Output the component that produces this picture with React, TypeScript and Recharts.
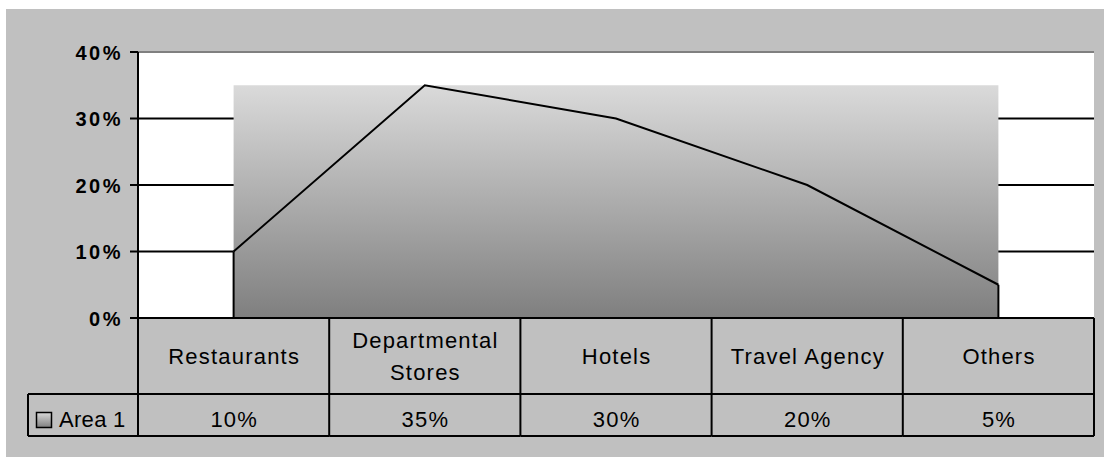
import {
  AreaChart,
  Area,
  XAxis,
  YAxis,
  CartesianGrid,
  ReferenceArea,
  ReferenceLine,
} from "recharts";

const categories = ["Restaurants", "Departmental Stores", "Hotels", "Travel Agency", "Others"];
const categoryLabels = ["Restaurants", "Departmental\nStores", "Hotels", "Travel Agency", "Others"];
const area1 = [0.1, 0.35, 0.3, 0.2, 0.05];
const yTicks = [0, 0.1, 0.2, 0.3, 0.4];
const seriesName = "Area 1";

const data = categories.map((name, i) => ({ name, area1: area1[i] }));

const W = 1104;
const H = 457;
const PLOT_LEFT = 138;
const PLOT_RIGHT = 1094;
const PLOT_TOP = 52;
const PLOT_BOTTOM = 318;
const ROW_SPLIT = 394;
const TABLE_BOTTOM = 436;
const LEGEND_LEFT = 28;
const BAND = (PLOT_RIGHT - PLOT_LEFT) / categories.length;
const Y_AXIS_W = 80;
const X_AXIS_H = TABLE_BOTTOM - PLOT_BOTTOM;

const FONT = "'Liberation Sans', Arial, sans-serif";
const LS = 1.2;

const pct = (v: number) => `${Math.round(v * 100)}%`;

const YTick = (props: any) => {
  const { x, y, payload } = props;
  return (
    <text
      x={x}
      y={y + 7.7}
      textAnchor="end"
      fontFamily={FONT}
      fontWeight="bold"
      fontSize={20}
      letterSpacing={2.5}
      fill="#000"
    >
      {pct(payload.value)}
    </text>
  );
};

const line = (x1: number, y1: number, x2: number, y2: number, key?: string) => (
  <line key={key} x1={x1} y1={y1} x2={x2} y2={y2} stroke="#000" strokeWidth={2} />
);

const TableCell = (props: any) => {
  const { x, index } = props;
  const left = x - BAND / 2;
  const right = x + BAND / 2;
  const lines = categoryLabels[index].split("\n");
  const lh = 32.6;
  const first = 364 - ((lines.length - 1) * lh) / 2;
  return (
    <g>
      {index === 0 && line(left, PLOT_BOTTOM, left, TABLE_BOTTOM)}
      {line(right, PLOT_BOTTOM, right, TABLE_BOTTOM)}
      {line(left, ROW_SPLIT, right, ROW_SPLIT)}
      {line(left, TABLE_BOTTOM, right, TABLE_BOTTOM)}
      <text
        textAnchor="middle"
        fontFamily={FONT}
        fontSize={22}
        letterSpacing={LS}
        fill="#000"
      >
        {lines.map((l: string, i: number) => (
          <tspan key={i} x={x + LS / 2} y={first + i * lh}>
            {l}
          </tspan>
        ))}
      </text>
      <text
        x={x + LS / 2}
        y={427}
        textAnchor="middle"
        fontFamily={FONT}
        fontSize={22}
        letterSpacing={LS}
        fill="#000"
      >
        {pct(area1[index])}
      </text>
      {index === 0 && (
        <g>
          {line(LEGEND_LEFT, ROW_SPLIT, LEGEND_LEFT, TABLE_BOTTOM)}
          {line(LEGEND_LEFT, ROW_SPLIT, left, ROW_SPLIT)}
          {line(LEGEND_LEFT, TABLE_BOTTOM, left, TABLE_BOTTOM)}
          <rect
            x={36.5}
            y={412.5}
            width={15}
            height={15}
            fill="url(#areaGrad)"
            stroke="#000"
            strokeWidth={1.5}
          />
          <text x={59} y={427} fontFamily={FONT} fontSize={22} letterSpacing={0.3} fill="#000">
            {seriesName}
          </text>
        </g>
      )}
    </g>
  );
};

export default function App() {
  const firstPt = data[0];
  const lastPt = data[data.length - 1];
  const maxVal = Math.max(...area1);
  return (
    <div style={{ position: "absolute", left: 0, top: 0, width: W, height: H, background: "#fff" }}>
      <div
        style={{ position: "absolute", left: 6, top: 9, right: 0, bottom: 0, background: "#c0c0c0" }}
      />
      <div style={{ position: "absolute", left: 0, top: 0 }}>
        <AreaChart
          width={W}
          height={H}
          data={data}
          margin={{
            top: PLOT_TOP,
            right: W - PLOT_RIGHT,
            bottom: H - PLOT_BOTTOM - X_AXIS_H,
            left: PLOT_LEFT - Y_AXIS_W,
          }}
        >
          <defs>
            <linearGradient id="areaGrad" x1="0" y1="0" x2="0" y2="1">
              <stop offset="0%" stopColor="#dadada" />
              <stop offset="100%" stopColor="#7f7f7f" />
            </linearGradient>
          </defs>
          <CartesianGrid
            vertical={false}
            fill="#fff"
            fillOpacity={1}
            stroke="#000"
            strokeWidth={2}
          />
          <XAxis
            dataKey="name"
            height={X_AXIS_H}
            interval={0}
            padding={{ left: BAND / 2, right: BAND / 2 }}
            axisLine={{ stroke: "#000", strokeWidth: 2 }}
            tickLine={false}
            tick={(p: any) => <TableCell {...p} />}
          />
          <YAxis
            width={Y_AXIS_W}
            domain={[0, 0.4]}
            ticks={yTicks}
            tickSize={8}
            tickMargin={7}
            axisLine={{ stroke: "#000", strokeWidth: 2 }}
            tickLine={{ stroke: "#000", strokeWidth: 2 }}
            tick={(p: any) => <YTick {...p} />}
          />
          <YAxis
            yAxisId="right"
            orientation="right"
            width={0}
            domain={[0, 0.4]}
            tick={false}
            tickLine={false}
            axisLine={{ stroke: "#808080", strokeWidth: 2 }}
          />
          <ReferenceArea
            x1={firstPt.name}
            x2={lastPt.name}
            y1={0}
            y2={maxVal}
            fill="url(#areaGrad)"
            fillOpacity={1}
            stroke="none"
            ifOverflow="visible"
          />
          <Area
            type="linear"
            dataKey="area1"
            name={seriesName}
            fill="none"
            stroke="#000"
            strokeWidth={2}
            dot={false}
            activeDot={false}
            isAnimationActive={false}
          />
          <ReferenceLine
            segment={[
              { x: firstPt.name, y: 0 },
              { x: firstPt.name, y: firstPt.area1 },
            ]}
            stroke="#000"
            strokeWidth={2}
          />
          <ReferenceLine
            segment={[
              { x: lastPt.name, y: 0 },
              { x: lastPt.name, y: lastPt.area1 },
            ]}
            stroke="#000"
            strokeWidth={2}
          />
          <ReferenceLine y={0.4} stroke="#808080" strokeWidth={2} />
        </AreaChart>
      </div>
    </div>
  );
}
